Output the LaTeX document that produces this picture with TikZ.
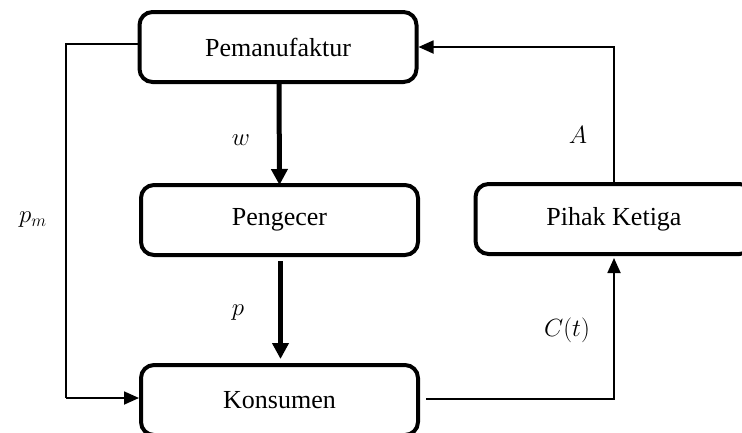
\documentclass[tikz,border=0pt]{standalone}
\usepackage{fontspec}
\setmainfont{Liberation Serif}
\usetikzlibrary{arrows.meta}
\begin{document}
\begin{tikzpicture}[x=1pt,y=-1pt,
  box/.style={draw,line width=4pt,rounded corners=13pt,minimum width=277pt,minimum height=70pt,inner sep=0pt,font=\fontsize{26}{30}\selectfont},
  thinarrow/.style={line width=1.8pt,-{Triangle[length=15pt,width=13pt]}},
  thickarrow/.style={line width=5pt,-{Triangle[length=16pt,width=16pt]}},
  lbl/.style={font=\fontsize{26}{30}\selectfont,inner sep=0pt}]
\useasboundingbox (0,0) rectangle (742,432);
\clip (0,0) rectangle (742,432);
\node[box] (pm) at (278,47) {Pemanufaktur};
\node[box] (pe) at (279.5,220) {Pengecer};
\node[box] (pk) at (614,219) {Pihak Ketiga};
\node[box] (ko) at (279.5,400) {Konsumen};
\coordinate (lt) at (66,44);
\coordinate (lb) at (66,398);
\draw[line width=1.8pt] ([yshift=3pt]pm.west) -- (lt) -- (lb);
\draw[thinarrow] (lb) -- (lb -| ko.west);
\draw[thinarrow] (pk.north) |- (pm.east);
\draw[thinarrow,shorten <=6pt] ([yshift=1pt]ko.east) -| ([yshift=-2pt]pk.south);
\draw[thickarrow] ([xshift=1pt]pm.south) -- ([yshift=-2pt]pe.north);
\draw[thickarrow,shorten <=4pt] ([xshift=1pt]pe.south) -- ([xshift=1pt,yshift=4pt]ko.north);
\node[lbl] (lw) at (241,140) {$w$};
\node[lbl] (lp) at (238,313) {$p$};
\node[lbl] (la) at (578,135) {$A$};
\node[lbl] (lc) at (567,330) {$C(t)$};
\node[lbl] (lpm) at (33,220) {$p_m$};
\end{tikzpicture}
\end{document}
